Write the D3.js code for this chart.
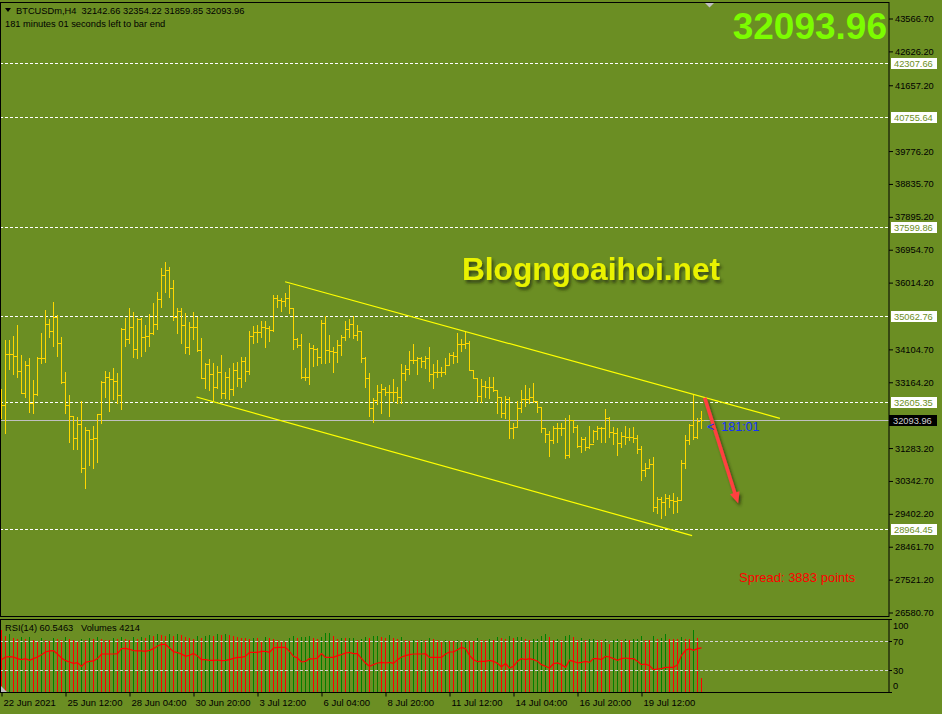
<!DOCTYPE html>
<meta charset="utf-8">
<title>BTCUSDm,H4</title>
<head>
  <script src="https://d3js.org/d3.v7.min.js"></script>
  <style>
    body { margin: 0; background: #6b8e23; }
    svg { display: block; font-family: "Liberation Sans", Arial, sans-serif; }
  </style>
</head>
<body>
  <div id="chart"></div>
</body>

<script>
    // H4 bars, 22 Jun 2021 20:00 .. 22 Jul 00:00
    var opens = [32276, 32505, 33963, 33963, 33916, 33487, 32867, 33658, 32581, 32819,
      33868, 33868, 34831, 34630, 35040, 34278, 33162, 32505, 32200, 31561,
      31962, 30703, 31790, 31532, 31561, 32247, 33162, 33315, 33258, 33201,
      32810, 34688, 34392, 34754, 34106, 34964, 34449, 34487, 34564, 34831,
      35536, 36222, 36375, 35851, 35040, 35193, 34793, 34163, 34735, 34735,
      34087, 33296, 33677, 33391, 33039, 33458, 32867, 33325, 32981, 33515,
      33277, 33782, 33477, 34487, 34611, 34611, 34754, 34707, 34659, 35565,
      35517, 35488, 35565, 35279, 34392, 34230, 33325, 33325, 34135, 34116,
      33877, 34850, 34087, 34058, 34020, 34230, 34449, 34678, 34831, 34516,
      34630, 33868, 33296, 32419, 32657, 32877, 32962, 32896, 32896, 32896,
      32753, 33420, 33553, 33801, 33801, 33849, 33772, 33849, 33401, 33448,
      33468, 33448, 33658, 33944, 33925, 34249, 34259, 34300, 33515, 33296,
      32772, 33058, 33039, 33039, 32943, 32734, 32276, 32676, 31866, 31895,
      32419, 32676, 32676, 32753, 32638, 32467, 31866, 31676, 31514, 31847,
      31866, 31847, 31085, 32085, 31895, 31342, 31532, 31323, 31399, 31771,
      31866, 31866, 32133, 31752, 31723, 31418, 31628, 31609, 31609, 31561,
      31247, 30656, 30703, 30818, 29607, 29817, 29750, 29845, 29798, 29769,
      29798, 30846, 31514, 31942, 31590, 32142.66];
    var highs = [32962, 34373, 34373, 34487, 34802, 33944, 33782, 33868, 33229, 33877,
      34583, 35231, 34964, 35469, 35088, 34468, 33458, 32800, 32210, 32181,
      32629, 31895, 31799, 31914, 32257, 33201, 33487, 33468, 33572, 33420,
      34726, 34993, 35298, 35174, 34993, 34993, 34802, 35117, 35441, 35755,
      36422, 36594, 36470, 36089, 35279, 35279, 35136, 34897, 35183, 35040,
      34440, 33706, 33830, 33706, 33630, 33944, 33468, 33582, 33706, 33754,
      33896, 33877, 34630, 34773, 34802, 34926, 34916, 34773, 35660, 35660,
      35565, 35727, 35946, 35279, 34421, 34535, 33563, 34278, 34230, 34154,
      34945, 35069, 34516, 34182, 34373, 34516, 34916, 34974, 35059, 34802,
      34630, 33896, 33439, 32705, 33086, 33105, 33039, 33086, 33248, 33039,
      33687, 33658, 34068, 34249, 33896, 33877, 33916, 34163, 33677, 33801,
      33610, 33849, 33992, 34039, 34564, 34392, 34630, 34354, 33515, 33300,
      33258, 33201, 33306, 33325, 32943, 32734, 32772, 32753, 32009, 32629,
      32943, 33086, 32991, 33134, 32640, 32467, 31866, 31771, 31914, 31990,
      31990, 32133, 32228, 32090, 31942, 31609, 31609, 31914, 31799, 31914,
      31895, 32390, 32181, 31895, 31847, 31752, 31914, 31866, 31895, 31656,
      31342, 30846, 30961, 31037, 29893, 29893, 29960, 29941, 29988, 29893,
      30942, 31656, 31962, 32800, 32133, 32354.22];
    var lows = [32133, 31704, 33534, 33401, 33325, 32848, 32734, 32324, 32295, 32791,
      33706, 33754, 34468, 34211, 33925, 33134, 32276, 31466, 31266, 31266,
      30608, 30131, 30799, 30722, 30875, 31990, 32753, 32352, 32676, 32562,
      32390, 34211, 34278, 33896, 33849, 33916, 34068, 34211, 34545, 34697,
      35307, 35755, 35593, 34945, 34583, 34278, 33992, 33963, 34392, 34068,
      33277, 32991, 32943, 32657, 33001, 32705, 32724, 32686, 32791, 33058,
      33039, 33210, 33401, 34278, 34325, 34468, 34182, 34354, 34630, 35326,
      35202, 35355, 35155, 34116, 34163, 33277, 33229, 33105, 33639, 33658,
      33706, 33706, 33734, 33468, 33754, 33944, 34373, 34468, 34421, 34373,
      33754, 33020, 32209, 32038, 32543, 32276, 32800, 32209, 32638, 32562,
      32581, 33229, 33401, 33725, 33401, 33610, 33582, 33201, 32991, 33325,
      33344, 33391, 33650, 33725, 33734, 34068, 34135, 33515, 33277, 32629,
      32610, 32734, 32705, 32924, 32276, 32181, 32133, 31561, 31561, 31876,
      32324, 32486, 32562, 32610, 32305, 31752, 31466, 31066, 31437, 31466,
      31656, 30989, 31037, 31752, 31323, 31161, 31227, 31275, 31466, 31532,
      31466, 31466, 31609, 31390, 31085, 31323, 31399, 31514, 31466, 31132,
      30370, 30484, 30703, 29493, 29416, 29273, 29369, 29607, 29436, 29464,
      29798, 30703, 31399, 31532, 31561, 31859.85];
    var closes = [32505, 33963, 33963, 33916, 33487, 32867, 33658, 32581, 32819, 33868,
      33868, 34831, 34630, 35040, 34278, 33162, 32505, 32200, 31561, 31962,
      30703, 31790, 31532, 31561, 32247, 33162, 33315, 33258, 33201, 32810,
      34688, 34392, 34754, 34106, 34964, 34449, 34487, 34564, 34831, 35536,
      36222, 36375, 35851, 35040, 35193, 34793, 34163, 34735, 34735, 34087,
      33296, 33677, 33391, 33039, 33458, 32867, 33325, 32981, 33515, 33277,
      33782, 33477, 34487, 34611, 34611, 34754, 34707, 34659, 35565, 35517,
      35488, 35565, 35279, 34392, 34230, 33325, 33325, 34135, 34116, 33877,
      34850, 34087, 34058, 34020, 34230, 34449, 34678, 34831, 34516, 34630,
      33868, 33296, 32419, 32657, 32877, 32962, 32896, 32896, 32896, 32753,
      33420, 33553, 33801, 33801, 33849, 33772, 33849, 33401, 33448, 33468,
      33448, 33658, 33944, 33925, 34249, 34259, 34300, 33515, 33296, 32772,
      33058, 33039, 33039, 32943, 32734, 32276, 32676, 31866, 31895, 32419,
      32676, 32676, 32753, 32638, 32467, 31866, 31676, 31514, 31847, 31866,
      31847, 31085, 32085, 31895, 31342, 31532, 31323, 31399, 31771, 31866,
      31866, 32133, 31752, 31723, 31418, 31628, 31609, 31609, 31561, 31247,
      30656, 30703, 30818, 29607, 29817, 29750, 29845, 29798, 29769, 29798,
      30846, 31514, 31942, 31590, 32066, 32093.96];

    // tick volumes and RSI(14), same bars
    var volumes = [19200, 17300, 18000, 16600, 16400, 17100, 16300, 16900, 16100, 15900,
      16600, 16200, 15800, 16700, 16300, 16000, 16900, 16500, 16200, 15900,
      16400, 16100, 16800, 16300, 16900, 16500, 16200, 16000, 16800, 16400,
      17000, 16500, 16200, 16900, 16400, 17100, 16600, 17600, 17300, 17900,
      17500, 17200, 17800, 17400, 17900, 17500, 17000, 16700, 16400, 17200,
      16800, 17300, 17700, 17400, 17900, 17500, 18000, 17600, 17200, 17100,
      16692, 16600, 16500, 16700, 16600, 15652, 17004, 16692, 16484, 15964,
      15652, 15600, 16692, 17316, 16692, 17004, 17100, 17316, 16692, 16276,
      17004, 18252, 18300, 17316, 16276, 16692, 16600, 16700, 16750, 15964,
      16276, 17004, 16692, 17316, 17350, 17004, 16692, 17628, 16692, 16276,
      17004, 15964, 15900, 16000, 15964, 16050, 15964, 16692, 16276, 15964,
      15652, 15964, 15652, 15600, 15964, 15900, 15964, 15900, 15800, 16692,
      16172, 16100, 16484, 16172, 17004, 16692, 16484, 17316, 16692, 17004,
      17050, 16484, 16172, 16250, 16484, 17316, 18044, 17004, 16172, 16484,
      16172, 17316, 17732, 17004, 16172, 16692, 16172, 16250, 16300, 16200,
      16150, 16484, 14820, 16172, 16484, 16172, 16250, 16172, 16250, 16484,
      17316, 16172, 16100, 17316, 16484, 16692, 17940, 16484, 16400, 16300,
      17004, 16484, 16400, 19188, 16692, 4214];
    var rsi = [44.3, 48.0, 48.4, 48.0, 45.7, 44.3, 45.7, 43.4, 45.7, 48.0,
      51.2, 54.9, 56.3, 56.7, 52.1, 46.6, 42.9, 41.1, 39.2, 40.2,
      35.1, 40.6, 42.0, 42.5, 45.7, 52.1, 52.1, 52.1, 52.1, 52.6,
      59.5, 59.9, 58.6, 56.7, 56.3, 56.3, 55.8, 57.2, 59.5, 63.2,
      65.5, 65.5, 60.4, 55.3, 54.0, 52.1, 48.9, 50.3, 53.0, 49.4,
      44.3, 44.3, 43.4, 43.4, 43.8, 42.9, 43.4, 44.3, 46.1, 47.5,
      47.5, 48.9, 54.4, 54.4, 54.4, 55.8, 55.8, 54.4, 60.4, 61.3,
      61.3, 61.3, 55.8, 48.9, 46.6, 41.1, 42.0, 45.7, 45.2, 46.6,
      52.6, 47.5, 47.5, 47.5, 49.8, 51.2, 53.5, 54.4, 52.6, 52.6,
      45.7, 39.7, 35.1, 37.4, 39.7, 40.6, 39.7, 40.6, 39.2, 44.3,
      48.0, 49.8, 51.2, 52.1, 52.1, 52.1, 52.6, 47.5, 47.5, 47.5,
      47.5, 52.1, 54.9, 54.9, 58.1, 61.3, 59.5, 50.3, 44.3, 41.5,
      42.0, 42.0, 43.4, 42.0, 39.2, 34.2, 39.2, 32.8, 35.1, 42.0,
      45.7, 44.3, 45.7, 44.3, 42.0, 37.4, 35.1, 32.8, 38.8, 39.7,
      37.4, 33.7, 43.4, 42.0, 39.7, 40.6, 42.0, 40.6, 45.7, 45.7,
      44.3, 48.9, 48.0, 45.7, 43.4, 45.7, 46.6, 45.7, 45.7, 42.0,
      37.4, 38.3, 36.0, 30.5, 31.4, 31.9, 33.7, 33.7, 33.7, 37.4,
      50.3, 57.2, 59.5, 57.2, 59.5, 60.5463];

    var timeLabels = ["22 Jun 2021", "25 Jun 12:00", "28 Jun 04:00", "30 Jun 20:00", "3 Jul 12:00",
      "6 Jul 04:00", "8 Jul 20:00", "11 Jul 12:00", "14 Jul 04:00", "16 Jul 20:00", "19 Jul 12:00"];
    var timeLabelBars = [0, 16, 32, 48, 64, 80, 96, 112, 128, 144, 160];
    var priceTicks = [43566.70, 42626.20, 41657.20, 39776.20, 38835.70, 37895.20, 36954.70, 36014.20,
      34104.70, 33164.20, 32223.70, 31283.20, 30342.70, 29402.20, 28461.70, 27521.20, 26580.70];
    var rsiTicks = [100, 70, 30, 0];
    var rsiLevels = [70, 30];
    var levels = [42307.66, 40755.64, 37599.86, 35062.76, 32605.35, 28964.45];
    var bid = 32093.96;

    // objects drawn on the chart: [bar index, price]
    var channelTop = [[70.9, 36040], [194.6, 32134]];
    var channelBottom = [[48.75, 32743], [172.65, 28777]];
    var arrowLine = [[175.8, 32723], [184.15, 29703]];

    var width = 942, height = 714;
    var plot = {left: 0, right: 889, top: 2, bottom: 616};
    var sub = {top: 619, bottom: 692};

    var svg = d3.select("#chart")
      .append("svg")
        .attr("width", width)
        .attr("height", height);

    var x = d3.scaleLinear().domain([0, 175]).range([1.5, 701.5]);
    var y = d3.scaleLinear().domain([26580.7, 43566.7]).range([612.5, 18.5]);
    var yRsi = d3.scaleLinear().domain([0, 100]).range([691.75, 619.3]);
    var yVol = d3.scaleLinear().domain([0, 22930]).range([691.5, 618]);

    var crisp = function(v) { return Math.round(v) + 0.5; };
    var bidY = Math.round(y(bid));

    var defs = svg.append("defs");
    defs.append("filter").attr("id", "shadow")
        .attr("x", "-10%").attr("y", "-10%").attr("width", "130%").attr("height", "140%")
      .append("feDropShadow")
        .attr("dx", 2).attr("dy", 3).attr("stdDeviation", 1.6)
        .attr("flood-color", "#2a3308").attr("flood-opacity", 0.75);
    defs.append("clipPath").attr("id", "plotClip")
      .append("rect")
        .attr("x", plot.left).attr("y", plot.top)
        .attr("width", plot.right - plot.left).attr("height", plot.bottom - plot.top);
    // price labels are hidden behind the bid box, like in the terminal
    defs.append("clipPath").attr("id", "axisClip")
      .append("path")
        .attr("d", "M880,0H942V" + (bidY - 5) + "H880Z M880," + (bidY + 6) + "H942V714H880Z");

    svg.append("rect")
        .attr("width", width).attr("height", height)
        .attr("fill", "#6b8e23");

    var main = svg.append("g").attr("clip-path", "url(#plotClip)");

    // horizontal levels
    main.selectAll(".level")
      .data(levels)
      .enter()
      .append("line")
        .attr("x1", plot.left).attr("x2", plot.right)
        .attr("y1", function(d) { return crisp(y(d)); })
        .attr("y2", function(d) { return crisp(y(d)); })
        .attr("stroke", "#ffffff")
        .attr("stroke-dasharray", "3,2");

    main.append("line")
        .attr("x1", plot.left).attr("x2", plot.right)
        .attr("y1", bidY + 0.5).attr("y2", bidY + 0.5)
        .attr("stroke", "#c0c0c0");

    // OHLC bars
    var bars = main.selectAll(".bar")
      .data(d3.range(closes.length))
      .enter()
      .append("g")
        .attr("stroke", "#ffd700")
        .attr("shape-rendering", "crispEdges");
    bars.append("line")
        .attr("x1", function(i) { return x(i); })
        .attr("x2", function(i) { return x(i); })
        .attr("y1", function(i) { return Math.round(y(highs[i])); })
        .attr("y2", function(i) { return Math.round(y(lows[i])) + 1; });
    bars.append("line")
        .attr("x1", function(i) { return x(i) - 2; })
        .attr("x2", function(i) { return x(i); })
        .attr("y1", function(i) { return crisp(y(opens[i])); })
        .attr("y2", function(i) { return crisp(y(opens[i])); });
    bars.append("line")
        .attr("x1", function(i) { return x(i); })
        .attr("x2", function(i) { return x(i) + 2.5; })
        .attr("y1", function(i) { return crisp(y(closes[i])); })
        .attr("y2", function(i) { return crisp(y(closes[i])); });

    // channel
    [channelTop, channelBottom].forEach(function(pts) {
      main.append("line")
          .attr("x1", x(pts[0][0])).attr("y1", y(pts[0][1]))
          .attr("x2", x(pts[1][0])).attr("y2", y(pts[1][1]))
          .attr("stroke", "#ffff00")
          .attr("stroke-width", 1.2);
    });

    // red arrow
    var ax1 = x(arrowLine[0][0]), ay1 = y(arrowLine[0][1]);
    var ax2 = x(arrowLine[1][0]), ay2 = y(arrowLine[1][1]);
    var len = Math.hypot(ax2 - ax1, ay2 - ay1);
    var ux = (ax2 - ax1) / len, uy = (ay2 - ay1) / len;
    var arrowG = main.append("g").attr("filter", "url(#shadow)");
    arrowG.append("line")
        .attr("x1", ax1).attr("y1", ay1)
        .attr("x2", ax2 - ux * 8).attr("y2", ay2 - uy * 8)
        .attr("stroke", "#ff4040")
        .attr("stroke-width", 3.5);
    arrowG.append("polygon")
        .attr("points", [
          [ax2, ay2],
          [ax2 - ux * 11 - uy * 5, ay2 - uy * 11 + ux * 5],
          [ax2 - ux * 11 + uy * 5, ay2 - uy * 11 - ux * 5]
        ].join(" "))
        .attr("fill", "#ff4040");

    // texts on chart
    svg.append("text")
        .attr("x", 462).attr("y", 280)
        .attr("font-size", 31.6).attr("font-weight", "bold")
        .attr("fill", "#e9f200")
        .attr("filter", "url(#shadow)")
        .text("Blogngoaihoi.net");

    svg.append("text")
        .attr("x", 887).attr("y", 38.5)
        .attr("text-anchor", "end")
        .attr("font-size", 37).attr("font-weight", "bold")
        .attr("fill", "#7cfc00")
        .text("32093.96");

    svg.append("text")
        .attr("x", 707).attr("y", 431)
        .attr("font-size", 12.5)
        .attr("fill", "#1432ff")
        .attr("xml:space", "preserve")
        .text("<  181:01");

    svg.append("text")
        .attr("x", 739).attr("y", 582)
        .attr("font-size", 13)
        .attr("fill", "#ff0000")
        .text("Spread: 3883 points");

    svg.append("polygon")
        .attr("points", "5,8 11,8 8,12")
        .attr("fill", "#000000");
    svg.append("text")
        .attr("x", 16).attr("y", 14)
        .attr("font-size", 9.3)
        .attr("fill", "#000000")
        .attr("xml:space", "preserve")
        .text("BTCUSDm,H4  32142.66 32354.22 31859.85 32093.96");
    svg.append("text")
        .attr("x", 5).attr("y", 27)
        .attr("font-size", 9.3)
        .attr("fill", "#000000")
        .text("181 minutes 01 seconds left to bar end");

    svg.append("polygon")
        .attr("points", "705,3 714,3 709.5,7.5")
        .attr("fill", "#c0c0c0");

    // price axis
    var priceAxis = svg.append("g")
        .attr("transform", "translate(" + plot.right + ",0)")
        .call(d3.axisRight(y).tickValues(priceTicks).tickFormat(d3.format(".2f")).tickSize(4).tickPadding(2));
    priceAxis.select(".domain").remove();
    priceAxis.selectAll("line").attr("stroke", "#000000");
    priceAxis.selectAll("text")
        .attr("font-family", "Liberation Sans, Arial, sans-serif")
        .attr("font-size", 9.3)
        .attr("fill", "#000000")
        .attr("clip-path", function(d) { return Math.abs(d - bid) < 300 ? null : null; });
    priceAxis.selectAll(".tick")
        .filter(function(d) { return Math.abs(y(d) - bidY) < 12; })
        .attr("clip-path", "url(#axisClip)");

    // level labels
    var levelLabels = svg.selectAll(".levelLabel")
      .data(levels)
      .enter()
      .append("g")
        .attr("transform", function(d) { return "translate(891," + Math.round(y(d)) + ")"; });
    levelLabels.append("rect")
        .attr("x", 0).attr("y", -5).attr("width", 46).attr("height", 11)
        .attr("fill", "#ffffff");
    levelLabels.append("text")
        .attr("x", 3).attr("y", 4)
        .attr("font-size", 9.3)
        .attr("fill", "#6b8e23")
        .text(function(d) { return d.toFixed(2); });

    svg.append("rect")
        .attr("x", 889).attr("y", bidY - 5)
        .attr("width", 48).attr("height", 11)
        .attr("fill", "#000000");
    svg.append("text")
        .attr("x", 893).attr("y", bidY + 4)
        .attr("font-size", 9.3)
        .attr("fill", "#d0d0d0")
        .text(bid.toFixed(2));

    // sub window: volumes + RSI
    svg.selectAll(".vol")
      .data(volumes)
      .enter()
      .append("line")
        .attr("x1", function(d, i) { return x(i); })
        .attr("x2", function(d, i) { return x(i); })
        .attr("y1", function(d) { return Math.round(yVol(d)); })
        .attr("y2", sub.bottom)
        .attr("stroke", function(d, i) { return i > 0 && d > volumes[i - 1] ? "#008000" : "#ff0000"; })
        .attr("shape-rendering", "crispEdges");

    svg.selectAll(".rsiLevel")
      .data(rsiLevels)
      .enter()
      .append("line")
        .attr("x1", plot.left).attr("x2", plot.right)
        .attr("y1", function(d) { return crisp(yRsi(d)); })
        .attr("y2", function(d) { return crisp(yRsi(d)); })
        .attr("stroke", "#d3d3d3")
        .attr("stroke-dasharray", "3,2");

    svg.append("path")
        .datum(rsi)
        .attr("d", d3.line().x(function(d, i) { return x(i); }).y(function(d) { return yRsi(d); }))
        .attr("fill", "none")
        .attr("stroke", "#ff0000")
        .attr("stroke-width", 1.2);

    svg.append("polygon")
        .attr("points", "1,686 7,692 1,692")
        .attr("fill", "#c0c0c0");

    svg.append("text")
        .attr("x", 5).attr("y", 631)
        .attr("font-size", 9.3)
        .attr("fill", "#000000")
        .attr("xml:space", "preserve")
        .text("RSI(14) 60.5463   Volumes 4214");

    svg.selectAll(".rsiTick")
      .data(rsiTicks)
      .enter()
      .append("line")
        .attr("x1", plot.right).attr("x2", plot.right + 3)
        .attr("y1", function(d) { return crisp(yRsi(d)); })
        .attr("y2", function(d) { return crisp(yRsi(d)); })
        .attr("stroke", "#000000");
    svg.selectAll(".rsiTickLabel")
      .data(rsiTicks)
      .enter()
      .append("text")
        .attr("x", 893)
        .attr("y", function(d) { return Math.max(628.5, Math.min(688.5, yRsi(d) + 4)); })
        .attr("font-size", 9.3)
        .attr("fill", "#000000")
        .text(function(d) { return d; });

    // frames
    svg.append("rect")
        .attr("x", 0.5).attr("y", plot.top + 0.5)
        .attr("width", plot.right - 0.5).attr("height", plot.bottom - plot.top)
        .attr("fill", "none").attr("stroke", "#000000");
    svg.append("rect")
        .attr("x", 0.5).attr("y", sub.top + 0.5)
        .attr("width", plot.right - 0.5).attr("height", sub.bottom - sub.top)
        .attr("fill", "none").attr("stroke", "#000000");

    // time axis
    var timeAxis = svg.append("g")
        .attr("transform", "translate(0," + (sub.bottom + 0.5) + ")")
        .call(d3.axisBottom(x).tickValues(timeLabelBars)
          .tickFormat(function(d, i) { return timeLabels[i]; }).tickSize(4));
    timeAxis.select(".domain").remove();
    timeAxis.selectAll("line").attr("stroke", "#000000");
    timeAxis.selectAll("text")
        .attr("text-anchor", "start")
        .attr("x", 1.5)
        .attr("font-family", "Liberation Sans, Arial, sans-serif")
        .attr("font-size", 9.5)
        .attr("fill", "#000000");
</script>
